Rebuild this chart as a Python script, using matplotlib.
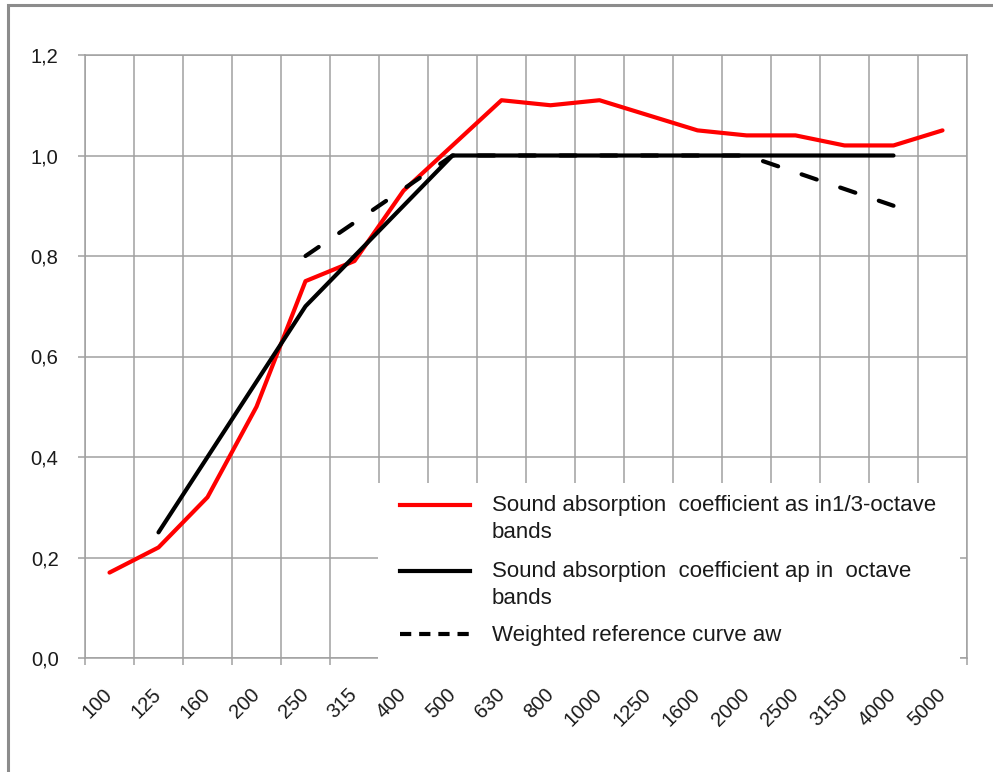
import matplotlib
matplotlib.use("Agg")
import matplotlib.pyplot as plt
import numpy as np
from matplotlib.patches import Rectangle
from matplotlib.lines import Line2D
from matplotlib.ticker import FixedLocator, FuncFormatter

plt.rcParams['font.family'] = ['Liberation Sans', 'DejaVu Sans']

# ---- data ----
freqs = ['100', '125', '160', '200', '250', '315', '400', '500', '630', '800',
         '1000', '1250', '1600', '2000', '2500', '3150', '4000', '5000']
alpha_s = [0.17, 0.22, 0.32, 0.50, 0.75, 0.79, 0.93, 1.02, 1.11, 1.10,
           1.11, 1.08, 1.05, 1.04, 1.04, 1.02, 1.02, 1.05]
octave_bands = ['125', '250', '500', '1000', '2000', '4000']
alpha_p = [0.25, 0.70, 1.00, 1.00, 1.00, 1.00]
ref_bands = ['250', '500', '1000', '2000', '4000']
alpha_ref = [0.80, 1.00, 1.00, 1.00, 0.90]
y_ticks = [0.0, 0.2, 0.4, 0.6, 0.8, 1.0, 1.2]
labels = ['Sound absorption  coefficient as in1/3-octave\nbands',
          'Sound absorption  coefficient ap in  octave\nbands',
          'Weighted reference curve aw']

W, H = 993, 772
fig = plt.figure(figsize=(W / 100, H / 100), dpi=100)
fig.patch.set_facecolor('white')

# outer frame
fig.patches.append(Rectangle((8 / W, -0.1), 1.2, 1 - 5 / H + 0.1, transform=fig.transFigure,
                             fill=False, edgecolor='#8c8c8c', linewidth=2.2, zorder=0))

L, R, T, B = 85, 967, 55, 658
ax = fig.add_axes([L / W, 1 - B / H, (R - L) / W, (B - T) / H])

x_all = np.arange(len(freqs))
idx = {f: i for i, f in enumerate(freqs)}
x_oct = [idx[f] for f in octave_bands]
x_ref = [idx[f] for f in ref_bands]

lw = 3.0
ax.plot(x_all, alpha_s, color='#ff0000', lw=lw, solid_capstyle='round', solid_joinstyle='round', zorder=3)
ax.plot(x_oct, alpha_p, color='black', lw=lw, solid_capstyle='round', solid_joinstyle='round', zorder=3.1)
ax.plot(x_ref, alpha_ref, color='black', lw=lw, linestyle=(0, (3.84, 5.95)), dash_capstyle='round',
        zorder=3.2)

ax.set_xlim(-0.5, len(freqs) - 0.5)
ax.set_ylim(0, 1.2)

grid_c = '#a0a0a0'
for s in ax.spines.values():
    s.set_color(grid_c)
    s.set_linewidth(1.1)

fs = 14.5
ax.xaxis.set_major_locator(FixedLocator(x_all))
ax.set_xticklabels(freqs, rotation=45, ha='right', va='center', rotation_mode='anchor', fontsize=fs,
                   color='#1a1a1a')
ax.xaxis.set_minor_locator(FixedLocator(np.arange(-0.5, len(freqs), 1.0)))
ax.tick_params(axis='x', which='major', length=0, pad=24)
ax.tick_params(axis='x', which='minor', length=5, width=1.1, color=grid_c, direction='out')
ax.grid(True, axis='x', which='minor', color=grid_c, lw=1.1)

ax.set_yticks(y_ticks)
ax.yaxis.set_major_formatter(FuncFormatter(lambda v, p: f"{v:.1f}".replace('.', ',')))
ax.tick_params(axis='y', length=5, width=1.1, color=grid_c, direction='out', pad=14,
               labelsize=fs, labelcolor='#1a1a1a')
ax.grid(True, axis='y', which='major', color=grid_c, lw=1.1)
ax.set_axisbelow(True)

# legend (white box overlapping the plot, as in the source chart)
def axx(px):
    return (px - L) / (R - L)

def axy(py):
    return (B - py) / (B - T)

ax.add_patch(Rectangle((axx(378), axy(666)), axx(960) - axx(378), axy(483) - axy(666),
                       transform=ax.transAxes, facecolor='white', edgecolor='none',
                       clip_on=False, zorder=5))
styles = [dict(color='#ff0000', lw=lw), dict(color='black', lw=lw),
          dict(color='black', lw=lw, linestyle=(0, (2.7, 1.9)))]
rows = [505, 571, 634]
for st, lab, py in zip(styles, labels, rows):
    ax.add_line(Line2D([axx(400), axx(470)], [axy(py), axy(py)], transform=ax.transAxes,
                       clip_on=False, zorder=6, **st))
    lines = lab.split('\n')
    for k, ln in enumerate(lines):
        ax.text(axx(492), axy(py + 1 + 26 * k), ln, transform=ax.transAxes, va='center', ha='left',
                fontsize=16, color='#1a1a1a', zorder=7, clip_on=False)

fig.savefig('out.png', dpi=100, facecolor='white')
